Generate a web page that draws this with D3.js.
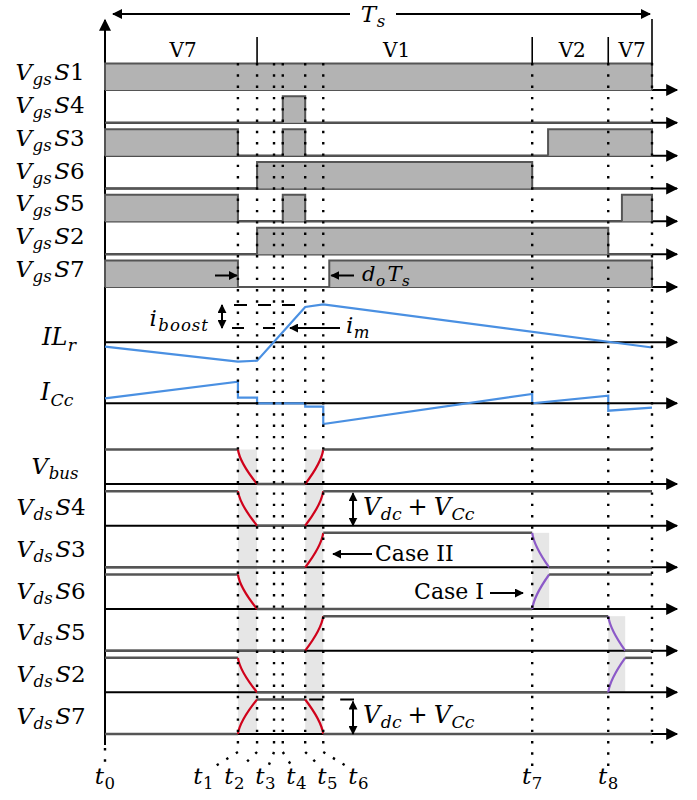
<!DOCTYPE html>
<html>
<head>
<meta charset="utf-8">
<script src="https://cdn.jsdelivr.net/npm/d3@7"></script>
<style>
  body { margin: 0; background: #fff; }
  svg text { fill: #000; }
</style>
</head>
<body>
<div id="chart"></div>
<script>
// time axis: one switching period, 0..Ts
const Ts = 100;
const tMarks = [0, 24.3, 27.8, 30.9, 32.5, 36.6, 39.9, 78.1, 92.0];
const sectorNames = ['V7', 'V1', 'V2', 'V7'];
const sectorEdges = [0, 27.8, 78.1, 92.0, Ts];

// gate signals: on-intervals per switch
const gateRows = ['S1', 'S4', 'S3', 'S6', 'S5', 'S2', 'S7'];
const gateOn = [
  [[0, 100]],
  [[32.5, 36.6]],
  [[0, 24.3], [32.5, 36.6], [81.0, 100]],
  [[27.8, 78.1]],
  [[0, 24.3], [32.5, 36.6], [94.5, 100]],
  [[27.8, 92.0]],
  [[0, 24.3], [41.0, 100]]
];

// currents (arbitrary units)
const ilrPoints = [[0, -0.44], [24.3, -1.94], [27.8, -1.84], [36.6, 3.53], [39.9, 3.8], [100, -0.52]];
const ilrLevels = [1.43, 3.73]; // i_m, i_m + i_boost
const iccPoints = [[0, 0.5], [24.3, 2.16], [24.3, 0.56], [27.8, 0.56], [27.8, 0], [36.6, 0], [36.6, -0.34],
  [39.9, -0.34], [39.9, -2.07], [78.1, 0.93], [78.1, 0], [92.0, 0.76], [92.0, -0.74], [100, -0.44]];

// drain-source voltages: [time, level]
const vdsRows = ['bus', 'S4', 'S3', 'S6', 'S5', 'S2', 'S7'];
const vdsSteps = [
  [[0, 1], [24.3, 1], [27.8, 0], [36.6, 0], [39.9, 1], [100, 1]],
  [[0, 1], [24.3, 1], [27.8, 0], [36.6, 0], [39.9, 1], [100, 1]],
  [[0, 0], [36.6, 0], [39.9, 1], [78.1, 1], [81.2, 0], [100, 0]],
  [[0, 1], [24.3, 1], [27.8, 0], [78.1, 0], [81.2, 1], [100, 1]],
  [[0, 0], [36.6, 0], [39.9, 1], [92.0, 1], [95.1, 0], [100, 0]],
  [[0, 1], [24.3, 1], [27.8, 0], [92.0, 0], [95.1, 1], [100, 1]],
  [[0, 0], [24.3, 0], [27.8, 1], [36.6, 1], [39.9, 0], [100, 0]]
];
const zvsWindows = [[24.3, 27.8], [36.6, 39.9], [78.1, 81.2], [92.0, 95.1]];
const zvsRows = [['bus', 'S7'], ['bus', 'S7'], ['S3', 'S6'], ['S5', 'S2']];

const W = 697, H = 800;
const FONT = '"DejaVu Serif", serif';
const red = '#d0021b', purple = '#8c5ac8', blue = '#4a90e2';
const fillGray = '#b3b3b3', lineGray = '#555', shade = '#e6e6e6';

const x = d3.scaleLinear().domain([0, Ts]).range([105, 652]);
const yGate = d3.scalePoint().domain(gateRows).range([90, 287]);
const gateH = 26.5;
const yIlr = d3.scaleLinear().domain([0, 1]).range([342.3, 332.3]);
const yIcc = d3.scaleLinear().domain([0, 1]).range([403.3, 393.3]);
const yVds = d3.scalePoint().domain(vdsRows).range([484, 734]);
const vdsH = 34.5;

const svg = d3.select('#chart').append('svg').attr('width', W).attr('height', H)
  .attr('font-family', FONT);
const defs = svg.append('defs');

function marker(id, w, h) {
  defs.append('marker')
    .attr('id', id)
    .attr('viewBox', '0 0 10 10')
    .attr('refX', 9).attr('refY', 5)
    .attr('markerUnits', 'userSpaceOnUse')
    .attr('markerWidth', w).attr('markerHeight', h)
    .attr('orient', 'auto-start-reverse')
    .append('path').attr('d', 'M0,0 L10,5 L0,10 Z').attr('fill', '#000');
}
marker('axArrow', 14, 12);
marker('tsArrow', 12, 10);
marker('smArrow', 9, 9);

// math-ish label: parts = [text, style] m=italic, b=italic sub, u=upright sub, n=upright, o=operator
function mathText(g, px, py, parts, size, anchor) {
  const t = g.append('text').attr('x', px).attr('y', py)
    .attr('font-family', FONT)
    .attr('text-anchor', anchor || 'middle').attr('font-size', size);
  let shift = 0;
  parts.forEach(([s, st]) => {
    const sub = st === 'b' || st === 'u';
    const want = sub ? size * 0.22 : 0;
    t.append('tspan')
      .attr('dy', want - shift)
      .attr('dx', sub ? 0.5 : (st === 'o' ? 6 : (shift ? 2.5 : 0)))
      .attr('font-size', sub ? size * 0.72 : size)
      .attr('font-style', st === 'm' || st === 'b' ? 'italic' : 'normal')
      .text(s);
    shift = want;
  });
  return t;
}

// ZVS shading
zvsWindows.forEach(([a, b], i) => {
  const [r0, r1] = zvsRows[i];
  svg.append('rect')
    .attr('x', x(a)).attr('width', x(b) - x(a))
    .attr('y', yVds(r0) - vdsH).attr('height', yVds(r1) - yVds(r0) + vdsH)
    .attr('fill', shade);
});

// time axes
const baselines = gateRows.map(d => yGate(d)).concat([yIlr(0), yIcc(0)], vdsRows.map(d => yVds(d)));
svg.selectAll('.tax')
  .data(baselines)
  .enter()
  .append('line')
  .attr('class', 'tax')
  .attr('x1', x(0)).attr('x2', 677)
  .attr('y1', d => d).attr('y2', d => d)
  .attr('stroke', '#000').attr('stroke-width', 2)
  .attr('marker-end', 'url(#axArrow)');

svg.append('line')
  .attr('x1', x(0)).attr('x2', x(0)).attr('y1', 745).attr('y2', 20)
  .attr('stroke', '#000').attr('stroke-width', 2)
  .attr('marker-end', 'url(#axArrow)');

// gate signals
gateRows.forEach((name, r) => {
  const base = yGate(name);
  svg.append('line')
    .attr('x1', x(0)).attr('x2', x(Ts)).attr('y1', base).attr('y2', base)
    .attr('stroke', lineGray).attr('stroke-width', 2);
  svg.selectAll(null)
    .data(gateOn[r])
    .enter()
    .append('path')
    .attr('d', d => `M${x(d[0])},${base}V${base - gateH}H${x(d[1])}V${base}`)
    .attr('fill', fillGray)
    .attr('stroke', lineGray).attr('stroke-width', 2);
  mathText(svg, 50, base - 10, [['V', 'm'], ['gs', 'b'], ['S', 'm'], [name.slice(1), 'n']], 23);
});

// currents
const line = d3.line();
svg.append('path')
  .attr('d', line(ilrPoints.map(d => [x(d[0]), yIlr(d[1])])))
  .attr('fill', 'none').attr('stroke', blue).attr('stroke-width', 2.2);
svg.append('path')
  .attr('d', line(iccPoints.map(d => [x(d[0]), yIcc(d[1])])))
  .attr('fill', 'none').attr('stroke', blue).attr('stroke-width', 2.2);
mathText(svg, 59, yIlr(0) + 3, [['IL', 'm'], ['r', 'b']], 24);
mathText(svg, 57, yIcc(0) - 3, [['I', 'm'], ['Cc', 'b']], 24);

// i_boost / i_m annotation
svg.append('line')
  .attr('x1', 234).attr('x2', x(36.6)).attr('y1', yIlr(ilrLevels[1])).attr('y2', yIlr(ilrLevels[1]))
  .attr('stroke', '#000').attr('stroke-width', 2).attr('stroke-dasharray', '13 11');
svg.append('line')
  .attr('x1', 232).attr('x2', 285).attr('y1', yIlr(ilrLevels[0])).attr('y2', yIlr(ilrLevels[0]))
  .attr('stroke', '#000').attr('stroke-width', 2).attr('stroke-dasharray', '12 19');
svg.append('line')
  .attr('x1', 222).attr('x2', 222).attr('y1', yIlr(ilrLevels[0])).attr('y2', yIlr(ilrLevels[1]))
  .attr('stroke', '#000').attr('stroke-width', 2)
  .attr('marker-start', 'url(#smArrow)').attr('marker-end', 'url(#smArrow)');
mathText(svg, 209, 326, [['i', 'm'], ['boost', 'b']], 23, 'end')
  .attr('letter-spacing', 1);
svg.append('line')
  .attr('x1', 340).attr('x2', 290).attr('y1', yIlr(ilrLevels[0])).attr('y2', yIlr(ilrLevels[0]))
  .attr('stroke', '#000').attr('stroke-width', 2).attr('marker-end', 'url(#smArrow)');
mathText(svg, 346, 333, [['i', 'm'], ['m', 'b']], 23, 'start');

// drain-source voltages
function edge(x0, y0, x1, y1, atEnd) {
  const k = 0.38;
  const p = d3.path();
  p.moveTo(x0, y0);
  if (atEnd) p.quadraticCurveTo(x1 - 0.1 * (x1 - x0), y1 + k * (y0 - y1), x1, y1);
  else p.quadraticCurveTo(x0 + 0.1 * (x1 - x0), y0 + k * (y1 - y0), x1, y1);
  return p.toString();
}

vdsRows.forEach((name, r) => {
  const base = yVds(name);
  const lv = v => base - v * vdsH;
  const steps = vdsSteps[r];
  for (let k = 0; k < steps.length - 1; k++) {
    const [t0, v0] = steps[k], [t1, v1] = steps[k + 1];
    if (v0 === v1) {
      svg.append('line')
        .attr('x1', x(t0)).attr('x2', x(t1)).attr('y1', lv(v0)).attr('y2', lv(v1))
        .attr('stroke', lineGray).attr('stroke-width', 2.5);
    } else {
      const w = zvsWindows.findIndex(d => d[0] === t0);
      svg.append('path')
        .attr('d', edge(x(t0), lv(v0), x(t1), lv(v1), w === 1))
        .attr('fill', 'none')
        .attr('stroke', w < 2 ? red : purple).attr('stroke-width', 2.2);
    }
  }
  const parts = name === 'bus' ? [['V', 'm'], ['bus', 'b']] : [['V', 'm'], ['ds', 'b'], ['S', 'm'], [name.slice(1), 'n']];
  mathText(svg, name === 'bus' ? 55 : 51, base - 10.5, parts, 23);
});

// dotted time markers
const dotted = sel => sel.attr('stroke', '#000').attr('stroke-width', 2.4)
  .attr('stroke-dasharray', '2.4 8.9').attr('fill', 'none');
const labelX = (t, i) => (i === 0 || i >= 7) ? x(t) : 281 + (i - 3.5) * 31;

tMarks.forEach((t, i) => {
  if (i === 0) {
    svg.append('line').attr('x1', x(t)).attr('x2', x(t)).attr('y1', 748).attr('y2', 766).call(dotted);
  } else {
    const bottom = i >= 7 ? 766 : 752;
    svg.append('line').attr('x1', x(t)).attr('x2', x(t)).attr('y1', 63).attr('y2', bottom).call(dotted);
    if (i < 7) {
      const ex = x(t) + (labelX(t, i) - x(t)) * 0.7;
      svg.append('line').attr('x1', x(t)).attr('x2', ex).attr('y1', 752).attr('y2', 767).call(dotted);
    }
  }
  mathText(svg, labelX(t, i), 784, [['t', 'm'], [String(i), 'u']], 23);
});
svg.append('line').attr('x1', x(Ts)).attr('x2', x(Ts)).attr('y1', 63).attr('y2', 752).call(dotted);

// sectors and period arrow
sectorEdges.slice(1, -1).forEach(t => {
  svg.append('line').attr('x1', x(t)).attr('x2', x(t)).attr('y1', 37).attr('y2', 63)
    .attr('stroke', '#000').attr('stroke-width', 1.6);
});
svg.append('line').attr('x1', x(Ts)).attr('x2', x(Ts)).attr('y1', 19).attr('y2', 63)
  .attr('stroke', '#000').attr('stroke-width', 1.6);
sectorNames.forEach((s, i) => {
  svg.append('text')
    .attr('x', (x(sectorEdges[i]) + x(sectorEdges[i + 1])) / 2 + 2)
    .attr('y', 57)
    .attr('font-family', FONT)
    .attr('text-anchor', 'middle').attr('font-size', 20)
    .text(s);
});
svg.append('line')
  .attr('x1', 113).attr('x2', 650).attr('y1', 14).attr('y2', 14)
  .attr('stroke', '#000').attr('stroke-width', 2)
  .attr('marker-start', 'url(#tsArrow)').attr('marker-end', 'url(#tsArrow)');
svg.append('rect').attr('x', 350).attr('y', 2).attr('width', 46).attr('height', 26).attr('fill', '#fff');
mathText(svg, 373, 22, [['T', 'm'], ['s', 'b']], 23);

// S7 dead-time annotation
const yS7 = yGate('S7') - 11.5;
svg.append('line').attr('x1', 215).attr('x2', x(24.3) - 1).attr('y1', yS7).attr('y2', yS7)
  .attr('stroke', '#000').attr('stroke-width', 2).attr('marker-end', 'url(#smArrow)');
svg.append('line').attr('x1', 354).attr('x2', x(41.0) + 2).attr('y1', yS7).attr('y2', yS7)
  .attr('stroke', '#000').attr('stroke-width', 2).attr('marker-end', 'url(#smArrow)');
mathText(svg, 362, 281, [['d', 'm'], ['o', 'b'], ['T', 'm'], ['s', 'b']], 21, 'start');

// Vdc + VCc annotations
['S4', 'S7'].forEach(name => {
  const base = yVds(name);
  svg.append('line').attr('x1', 353).attr('x2', 353).attr('y1', base - vdsH + 2).attr('y2', base)
    .attr('stroke', '#000').attr('stroke-width', 2)
    .attr('marker-start', 'url(#smArrow)').attr('marker-end', 'url(#smArrow)');
  mathText(svg, 363, base - 11, [['V', 'm'], ['dc', 'b'], ['+', 'o'], ['V', 'o'], ['Cc', 'b']], 24, 'start')
    .selectAll('tspan').filter((d, j) => j === 3).attr('font-style', 'italic');
});
svg.append('line')
  .attr('x1', x(36.6) + 4).attr('x2', 354).attr('y1', yVds('S7') - vdsH).attr('y2', yVds('S7') - vdsH)
  .attr('stroke', '#000').attr('stroke-width', 2).attr('stroke-dasharray', '14 17');

// Case labels
svg.append('line').attr('x1', 372).attr('x2', 333).attr('y1', 554).attr('y2', 554)
  .attr('stroke', '#000').attr('stroke-width', 2).attr('marker-end', 'url(#smArrow)');
svg.append('text').attr('x', 375).attr('y', 561).attr('font-family', FONT).attr('font-size', 22).text('Case II');
svg.append('text').attr('x', 484).attr('y', 599).attr('font-family', FONT).attr('font-size', 22)
  .attr('text-anchor', 'end').text('Case I');
svg.append('line').attr('x1', 490).attr('x2', 523).attr('y1', 593).attr('y2', 593)
  .attr('stroke', '#000').attr('stroke-width', 2).attr('marker-end', 'url(#smArrow)');
</script>
</body>
</html>
